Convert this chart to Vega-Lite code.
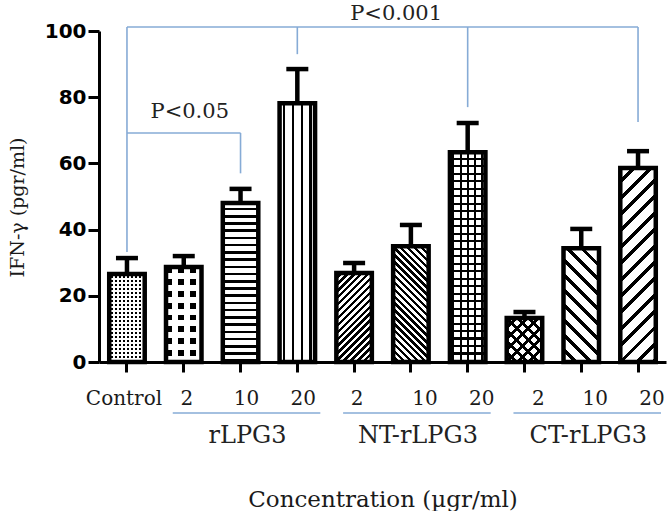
{
"$schema": "https://vega.github.io/schema/vega-lite/v6.json",
"width": 567, "height": 331,
"autosize": "none",
"padding": {"left": 99, "top": 31, "right": 5, "bottom": 149},
"background": "white",
"config": {"view": {"stroke": null}},
"datasets": {
 "bars": [
  {"cat":"Control","mean":26.6,"upper":31.4},
  {"cat":"r2","mean":28.7,"upper":32.0},
  {"cat":"r10","mean":48.0,"upper":52.3},
  {"cat":"r20","mean":78.2,"upper":88.5},
  {"cat":"n2","mean":26.9,"upper":29.9},
  {"cat":"n10","mean":35.0,"upper":41.4},
  {"cat":"n20","mean":63.4,"upper":72.2},
  {"cat":"c2","mean":13.3,"upper":15.1},
  {"cat":"c10","mean":34.4,"upper":40.2},
  {"cat":"c20","mean":58.6,"upper":63.7}
 ],
 "hlines": [{"from":"Control","to":"c20","level":101.2},{"from":"Control","to":"r10","level":69.2}],
 "vlines": [{"at":"Control","lo":33.2,"hi":101.2},{"at":"r20","lo":93,"hi":101.2},{"at":"n20","lo":77,"hi":101.2},{"at":"c20","lo":72.5,"hi":101.2},{"at":"r10","lo":57,"hi":69.2}],
 "glines": [{"from":"r2","to":"r20","level":-15.4},{"from":"n2","to":"n20","level":-15.4},{"from":"c2","to":"c20","level":-15.4}],
 "glabels": [{"name":"rLPG3","mid":"r10","level":-22.4},{"name":"NT-rLPG3","mid":"n10","level":-22.4},{"name":"CT-rLPG3","mid":"c10","level":-22.4}],
 "plabels": [{"text":"P<0.001","at":"n2","level":103.3},{"text":"P<0.05","at":"r2","level":73.7}]
},
"data": {"name": "bars"},
"encoding": {
 "x": {"field":"cat","type":"nominal","sort":null,
  "scale":{"domain":["Control","r2","r10","r20","n2","n10","n20","c2","c10","c20"],"paddingInner":0.375,"paddingOuter":0.18},
  "axis":{"title":"Concentration (µgr/ml)","titleFont":"DejaVu Serif","titleFontSize":23,"titleFontWeight":"normal","titleColor":"#1a1a1a","titleY":144,"titleBaseline":"alphabetic",
   "labelAngle":0,"labelFont":"DejaVu Serif","labelFontSize":20,"labelColor":"#1a1a1a","labelPadding":26,"labelBaseline":"middle","labelOverlap":false,
   "labelExpr":"datum.value == 'Control' ? 'Control' : substring(datum.value, 1)",
   "labelOffset":{"condition":[{"test":"datum.value == 'Control'","value":-3},{"test":"datum.value == 'r2' || datum.value == 'n2'","value":3},{"test":"datum.value == 'r10' || datum.value == 'r20'","value":6}],"value":14},
   "domainColor":"#000","domainWidth":3,"tickColor":"#000","tickWidth":3,"tickSize":10}},
 "y": {"field":"mean","type":"quantitative","scale":{"domain":[0,100],"nice":false},
  "axis":{"title":"IFN-γ (pgr/ml)","values":[0,20,40,60,80,100],"grid":false,
   "labelFont":"DejaVu Sans","labelFontWeight":"bold","labelFontSize":20,"labelColor":"#000","labelPadding":2,
   "tickSize":11,"tickWidth":3,"tickColor":"#000","domainColor":"#000","domainWidth":3,
   "titleFont":"DejaVu Serif","titleFontSize":19,"titleFontWeight":"normal","titleColor":"#1a1a1a","titleX":-82,"titleY":176,"titleAngle":-90,"titleBaseline":"middle","titleAlign":"center"}}
},
"layer": [
 {"transform":[{"filter":"datum.cat == 'Control'"}],
  "mark":{"type":"bar","fill":{"gradient":"linear","x1":0,"y1":0,"x2":0,"y2":1,"stops":[
{"offset":0.0227,"color":"#fff"},{"offset":0.0227,"color":"#000"},{"offset":0.0455,"color":"#000"},{"offset":0.0455,"color":"#fff"},
{"offset":0.0682,"color":"#fff"},{"offset":0.0682,"color":"#000"},{"offset":0.0909,"color":"#000"},{"offset":0.0909,"color":"#fff"},
{"offset":0.1136,"color":"#fff"},{"offset":0.1136,"color":"#000"},{"offset":0.1364,"color":"#000"},{"offset":0.1364,"color":"#fff"},
{"offset":0.1591,"color":"#fff"},{"offset":0.1591,"color":"#000"},{"offset":0.1818,"color":"#000"},{"offset":0.1818,"color":"#fff"},
{"offset":0.2045,"color":"#fff"},{"offset":0.2045,"color":"#000"},{"offset":0.2273,"color":"#000"},{"offset":0.2273,"color":"#fff"},
{"offset":0.25,"color":"#fff"},{"offset":0.25,"color":"#000"},{"offset":0.2727,"color":"#000"},{"offset":0.2727,"color":"#fff"},
{"offset":0.2955,"color":"#fff"},{"offset":0.2955,"color":"#000"},{"offset":0.3182,"color":"#000"},{"offset":0.3182,"color":"#fff"},
{"offset":0.3409,"color":"#fff"},{"offset":0.3409,"color":"#000"},{"offset":0.3636,"color":"#000"},{"offset":0.3636,"color":"#fff"},
{"offset":0.3864,"color":"#fff"},{"offset":0.3864,"color":"#000"},{"offset":0.4091,"color":"#000"},{"offset":0.4091,"color":"#fff"},
{"offset":0.4318,"color":"#fff"},{"offset":0.4318,"color":"#000"},{"offset":0.4545,"color":"#000"},{"offset":0.4545,"color":"#fff"},
{"offset":0.4773,"color":"#fff"},{"offset":0.4773,"color":"#000"},{"offset":0.5,"color":"#000"},{"offset":0.5,"color":"#fff"},
{"offset":0.5227,"color":"#fff"},{"offset":0.5227,"color":"#000"},{"offset":0.5455,"color":"#000"},{"offset":0.5455,"color":"#fff"},
{"offset":0.5682,"color":"#fff"},{"offset":0.5682,"color":"#000"},{"offset":0.5909,"color":"#000"},{"offset":0.5909,"color":"#fff"},
{"offset":0.6136,"color":"#fff"},{"offset":0.6136,"color":"#000"},{"offset":0.6364,"color":"#000"},{"offset":0.6364,"color":"#fff"},
{"offset":0.6591,"color":"#fff"},{"offset":0.6591,"color":"#000"},{"offset":0.6818,"color":"#000"},{"offset":0.6818,"color":"#fff"},
{"offset":0.7045,"color":"#fff"},{"offset":0.7045,"color":"#000"},{"offset":0.7273,"color":"#000"},{"offset":0.7273,"color":"#fff"},
{"offset":0.75,"color":"#fff"},{"offset":0.75,"color":"#000"},{"offset":0.7727,"color":"#000"},{"offset":0.7727,"color":"#fff"},
{"offset":0.7955,"color":"#fff"},{"offset":0.7955,"color":"#000"},{"offset":0.8182,"color":"#000"},{"offset":0.8182,"color":"#fff"},
{"offset":0.8409,"color":"#fff"},{"offset":0.8409,"color":"#000"},{"offset":0.8636,"color":"#000"},{"offset":0.8636,"color":"#fff"},
{"offset":0.8864,"color":"#fff"},{"offset":0.8864,"color":"#000"},{"offset":0.9091,"color":"#000"},{"offset":0.9091,"color":"#fff"},
{"offset":0.9318,"color":"#fff"},{"offset":0.9318,"color":"#000"},{"offset":0.9545,"color":"#000"},{"offset":0.9545,"color":"#fff"},
{"offset":0.9773,"color":"#fff"},{"offset":0.9773,"color":"#000"}]}}},
 {"transform":[{"filter":"datum.cat == 'Control'"}],
  "mark":{"type":"bar","fill":{"gradient":"linear","x1":0,"y1":0,"x2":1,"y2":0,"stops":[
{"offset":0.0556,"color":"#fff"},{"offset":0.0556,"color":"transparent"},{"offset":0.1111,"color":"transparent"},{"offset":0.1111,"color":"#fff"},
{"offset":0.1667,"color":"#fff"},{"offset":0.1667,"color":"transparent"},{"offset":0.2222,"color":"transparent"},{"offset":0.2222,"color":"#fff"},
{"offset":0.2778,"color":"#fff"},{"offset":0.2778,"color":"transparent"},{"offset":0.3333,"color":"transparent"},{"offset":0.3333,"color":"#fff"},
{"offset":0.3889,"color":"#fff"},{"offset":0.3889,"color":"transparent"},{"offset":0.4444,"color":"transparent"},{"offset":0.4444,"color":"#fff"},
{"offset":0.5,"color":"#fff"},{"offset":0.5,"color":"transparent"},{"offset":0.5556,"color":"transparent"},{"offset":0.5556,"color":"#fff"},
{"offset":0.6111,"color":"#fff"},{"offset":0.6111,"color":"transparent"},{"offset":0.6667,"color":"transparent"},{"offset":0.6667,"color":"#fff"},
{"offset":0.7222,"color":"#fff"},{"offset":0.7222,"color":"transparent"},{"offset":0.7778,"color":"transparent"},{"offset":0.7778,"color":"#fff"},
{"offset":0.8333,"color":"#fff"},{"offset":0.8333,"color":"transparent"},{"offset":0.8889,"color":"transparent"},{"offset":0.8889,"color":"#fff"},
{"offset":0.9444,"color":"#fff"},{"offset":0.9444,"color":"transparent"}]}}},
 {"transform":[{"filter":"datum.cat == 'r2'"}],
  "mark":{"type":"bar","fill":{"gradient":"linear","x1":0,"y1":0,"x2":0,"y2":1,"stops":[
{"offset":0.0625,"color":"#000"},{"offset":0.0625,"color":"#fff"},{"offset":0.125,"color":"#fff"},{"offset":0.125,"color":"#000"},
{"offset":0.1875,"color":"#000"},{"offset":0.1875,"color":"#fff"},{"offset":0.25,"color":"#fff"},{"offset":0.25,"color":"#000"},
{"offset":0.3125,"color":"#000"},{"offset":0.3125,"color":"#fff"},{"offset":0.375,"color":"#fff"},{"offset":0.375,"color":"#000"},
{"offset":0.4375,"color":"#000"},{"offset":0.4375,"color":"#fff"},{"offset":0.5,"color":"#fff"},{"offset":0.5,"color":"#000"},
{"offset":0.5625,"color":"#000"},{"offset":0.5625,"color":"#fff"},{"offset":0.625,"color":"#fff"},{"offset":0.625,"color":"#000"},
{"offset":0.6875,"color":"#000"},{"offset":0.6875,"color":"#fff"},{"offset":0.75,"color":"#fff"},{"offset":0.75,"color":"#000"},
{"offset":0.8125,"color":"#000"},{"offset":0.8125,"color":"#fff"},{"offset":0.875,"color":"#fff"},{"offset":0.875,"color":"#000"},
{"offset":0.9375,"color":"#000"},{"offset":0.9375,"color":"#fff"}]}}},
 {"transform":[{"filter":"datum.cat == 'r2'"}],
  "mark":{"type":"bar","fill":{"gradient":"linear","x1":0,"y1":0,"x2":1,"y2":0,"stops":[
{"offset":0.1667,"color":"transparent"},{"offset":0.1667,"color":"#fff"},{"offset":0.3333,"color":"#fff"},{"offset":0.3333,"color":"transparent"},
{"offset":0.5,"color":"transparent"},{"offset":0.5,"color":"#fff"},{"offset":0.6667,"color":"#fff"},{"offset":0.6667,"color":"transparent"},
{"offset":0.8333,"color":"transparent"},{"offset":0.8333,"color":"#fff"}]}}},
 {"transform":[{"filter":"datum.cat == 'r10'"}],
  "mark":{"type":"bar","fill":{"gradient":"linear","x1":0,"y1":0,"x2":0,"y2":1,"stops":[
{"offset":0.0295,"color":"#fff"},{"offset":0.0295,"color":"#000"},{"offset":0.0455,"color":"#000"},{"offset":0.0455,"color":"#fff"},
{"offset":0.075,"color":"#fff"},{"offset":0.075,"color":"#000"},{"offset":0.0909,"color":"#000"},{"offset":0.0909,"color":"#fff"},
{"offset":0.1205,"color":"#fff"},{"offset":0.1205,"color":"#000"},{"offset":0.1364,"color":"#000"},{"offset":0.1364,"color":"#fff"},
{"offset":0.1659,"color":"#fff"},{"offset":0.1659,"color":"#000"},{"offset":0.1818,"color":"#000"},{"offset":0.1818,"color":"#fff"},
{"offset":0.2114,"color":"#fff"},{"offset":0.2114,"color":"#000"},{"offset":0.2273,"color":"#000"},{"offset":0.2273,"color":"#fff"},
{"offset":0.2568,"color":"#fff"},{"offset":0.2568,"color":"#000"},{"offset":0.2727,"color":"#000"},{"offset":0.2727,"color":"#fff"},
{"offset":0.3023,"color":"#fff"},{"offset":0.3023,"color":"#000"},{"offset":0.3182,"color":"#000"},{"offset":0.3182,"color":"#fff"},
{"offset":0.3477,"color":"#fff"},{"offset":0.3477,"color":"#000"},{"offset":0.3636,"color":"#000"},{"offset":0.3636,"color":"#fff"},
{"offset":0.3932,"color":"#fff"},{"offset":0.3932,"color":"#000"},{"offset":0.4091,"color":"#000"},{"offset":0.4091,"color":"#fff"},
{"offset":0.4386,"color":"#fff"},{"offset":0.4386,"color":"#000"},{"offset":0.4545,"color":"#000"},{"offset":0.4545,"color":"#fff"},
{"offset":0.4841,"color":"#fff"},{"offset":0.4841,"color":"#000"},{"offset":0.5,"color":"#000"},{"offset":0.5,"color":"#fff"},
{"offset":0.5295,"color":"#fff"},{"offset":0.5295,"color":"#000"},{"offset":0.5455,"color":"#000"},{"offset":0.5455,"color":"#fff"},
{"offset":0.575,"color":"#fff"},{"offset":0.575,"color":"#000"},{"offset":0.5909,"color":"#000"},{"offset":0.5909,"color":"#fff"},
{"offset":0.6205,"color":"#fff"},{"offset":0.6205,"color":"#000"},{"offset":0.6364,"color":"#000"},{"offset":0.6364,"color":"#fff"},
{"offset":0.6659,"color":"#fff"},{"offset":0.6659,"color":"#000"},{"offset":0.6818,"color":"#000"},{"offset":0.6818,"color":"#fff"},
{"offset":0.7114,"color":"#fff"},{"offset":0.7114,"color":"#000"},{"offset":0.7273,"color":"#000"},{"offset":0.7273,"color":"#fff"},
{"offset":0.7568,"color":"#fff"},{"offset":0.7568,"color":"#000"},{"offset":0.7727,"color":"#000"},{"offset":0.7727,"color":"#fff"},
{"offset":0.8023,"color":"#fff"},{"offset":0.8023,"color":"#000"},{"offset":0.8182,"color":"#000"},{"offset":0.8182,"color":"#fff"},
{"offset":0.8477,"color":"#fff"},{"offset":0.8477,"color":"#000"},{"offset":0.8636,"color":"#000"},{"offset":0.8636,"color":"#fff"},
{"offset":0.8932,"color":"#fff"},{"offset":0.8932,"color":"#000"},{"offset":0.9091,"color":"#000"},{"offset":0.9091,"color":"#fff"},
{"offset":0.9386,"color":"#fff"},{"offset":0.9386,"color":"#000"},{"offset":0.9545,"color":"#000"},{"offset":0.9545,"color":"#fff"},
{"offset":0.9841,"color":"#fff"},{"offset":0.9841,"color":"#000"}]}}},
 {"transform":[{"filter":"datum.cat == 'r20'"}],
  "mark":{"type":"bar","fill":{"gradient":"linear","x1":0,"y1":0,"x2":1,"y2":0,"stops":[
{"offset":0.09,"color":"#fff"},{"offset":0.09,"color":"#000"},{"offset":0.16,"color":"#000"},{"offset":0.16,"color":"#fff"},
{"offset":0.34,"color":"#fff"},{"offset":0.34,"color":"#000"},{"offset":0.41,"color":"#000"},{"offset":0.41,"color":"#fff"},
{"offset":0.59,"color":"#fff"},{"offset":0.59,"color":"#000"},{"offset":0.66,"color":"#000"},{"offset":0.66,"color":"#fff"},
{"offset":0.84,"color":"#fff"},{"offset":0.84,"color":"#000"},{"offset":0.91,"color":"#000"},{"offset":0.91,"color":"#fff"}]}}},
 {"transform":[{"filter":"datum.cat == 'n2'"}],
  "mark":{"type":"bar","fill":{"gradient":"linear","x1":0,"y1":0,"x2":0.481,"y2":1.2068,"stops":[
{"offset":0.0278,"color":"#fff"},{"offset":0.0278,"color":"#000"},{"offset":0.0556,"color":"#000"},{"offset":0.0556,"color":"#fff"},
{"offset":0.0833,"color":"#fff"},{"offset":0.0833,"color":"#000"},{"offset":0.1111,"color":"#000"},{"offset":0.1111,"color":"#fff"},
{"offset":0.1389,"color":"#fff"},{"offset":0.1389,"color":"#000"},{"offset":0.1667,"color":"#000"},{"offset":0.1667,"color":"#fff"},
{"offset":0.1944,"color":"#fff"},{"offset":0.1944,"color":"#000"},{"offset":0.2222,"color":"#000"},{"offset":0.2222,"color":"#fff"},
{"offset":0.25,"color":"#fff"},{"offset":0.25,"color":"#000"},{"offset":0.2778,"color":"#000"},{"offset":0.2778,"color":"#fff"},
{"offset":0.3056,"color":"#fff"},{"offset":0.3056,"color":"#000"},{"offset":0.3333,"color":"#000"},{"offset":0.3333,"color":"#fff"},
{"offset":0.3611,"color":"#fff"},{"offset":0.3611,"color":"#000"},{"offset":0.3889,"color":"#000"},{"offset":0.3889,"color":"#fff"},
{"offset":0.4167,"color":"#fff"},{"offset":0.4167,"color":"#000"},{"offset":0.4444,"color":"#000"},{"offset":0.4444,"color":"#fff"},
{"offset":0.4722,"color":"#fff"},{"offset":0.4722,"color":"#000"},{"offset":0.5,"color":"#000"},{"offset":0.5,"color":"#fff"},
{"offset":0.5278,"color":"#fff"},{"offset":0.5278,"color":"#000"},{"offset":0.5556,"color":"#000"},{"offset":0.5556,"color":"#fff"},
{"offset":0.5833,"color":"#fff"},{"offset":0.5833,"color":"#000"},{"offset":0.6111,"color":"#000"},{"offset":0.6111,"color":"#fff"},
{"offset":0.6389,"color":"#fff"},{"offset":0.6389,"color":"#000"},{"offset":0.6667,"color":"#000"},{"offset":0.6667,"color":"#fff"},
{"offset":0.6944,"color":"#fff"},{"offset":0.6944,"color":"#000"},{"offset":0.7222,"color":"#000"},{"offset":0.7222,"color":"#fff"},
{"offset":0.75,"color":"#fff"},{"offset":0.75,"color":"#000"},{"offset":0.7778,"color":"#000"},{"offset":0.7778,"color":"#fff"},
{"offset":0.8056,"color":"#fff"},{"offset":0.8056,"color":"#000"},{"offset":0.8333,"color":"#000"},{"offset":0.8333,"color":"#fff"},
{"offset":0.8611,"color":"#fff"},{"offset":0.8611,"color":"#000"},{"offset":0.8889,"color":"#000"},{"offset":0.8889,"color":"#fff"},
{"offset":0.9167,"color":"#fff"},{"offset":0.9167,"color":"#000"},{"offset":0.9444,"color":"#000"},{"offset":0.9444,"color":"#fff"},
{"offset":0.9722,"color":"#fff"},{"offset":0.9722,"color":"#000"}]}}},
 {"transform":[{"filter":"datum.cat == 'n10'"}],
  "mark":{"type":"bar","fill":{"gradient":"linear","x1":0,"y1":1,"x2":0.3659,"y2":-0.1944,"stops":[
{"offset":0.0227,"color":"#fff"},{"offset":0.0227,"color":"#000"},{"offset":0.0455,"color":"#000"},{"offset":0.0455,"color":"#fff"},
{"offset":0.0682,"color":"#fff"},{"offset":0.0682,"color":"#000"},{"offset":0.0909,"color":"#000"},{"offset":0.0909,"color":"#fff"},
{"offset":0.1136,"color":"#fff"},{"offset":0.1136,"color":"#000"},{"offset":0.1364,"color":"#000"},{"offset":0.1364,"color":"#fff"},
{"offset":0.1591,"color":"#fff"},{"offset":0.1591,"color":"#000"},{"offset":0.1818,"color":"#000"},{"offset":0.1818,"color":"#fff"},
{"offset":0.2045,"color":"#fff"},{"offset":0.2045,"color":"#000"},{"offset":0.2273,"color":"#000"},{"offset":0.2273,"color":"#fff"},
{"offset":0.25,"color":"#fff"},{"offset":0.25,"color":"#000"},{"offset":0.2727,"color":"#000"},{"offset":0.2727,"color":"#fff"},
{"offset":0.2955,"color":"#fff"},{"offset":0.2955,"color":"#000"},{"offset":0.3182,"color":"#000"},{"offset":0.3182,"color":"#fff"},
{"offset":0.3409,"color":"#fff"},{"offset":0.3409,"color":"#000"},{"offset":0.3636,"color":"#000"},{"offset":0.3636,"color":"#fff"},
{"offset":0.3864,"color":"#fff"},{"offset":0.3864,"color":"#000"},{"offset":0.4091,"color":"#000"},{"offset":0.4091,"color":"#fff"},
{"offset":0.4318,"color":"#fff"},{"offset":0.4318,"color":"#000"},{"offset":0.4545,"color":"#000"},{"offset":0.4545,"color":"#fff"},
{"offset":0.4773,"color":"#fff"},{"offset":0.4773,"color":"#000"},{"offset":0.5,"color":"#000"},{"offset":0.5,"color":"#fff"},
{"offset":0.5227,"color":"#fff"},{"offset":0.5227,"color":"#000"},{"offset":0.5455,"color":"#000"},{"offset":0.5455,"color":"#fff"},
{"offset":0.5682,"color":"#fff"},{"offset":0.5682,"color":"#000"},{"offset":0.5909,"color":"#000"},{"offset":0.5909,"color":"#fff"},
{"offset":0.6136,"color":"#fff"},{"offset":0.6136,"color":"#000"},{"offset":0.6364,"color":"#000"},{"offset":0.6364,"color":"#fff"},
{"offset":0.6591,"color":"#fff"},{"offset":0.6591,"color":"#000"},{"offset":0.6818,"color":"#000"},{"offset":0.6818,"color":"#fff"},
{"offset":0.7045,"color":"#fff"},{"offset":0.7045,"color":"#000"},{"offset":0.7273,"color":"#000"},{"offset":0.7273,"color":"#fff"},
{"offset":0.75,"color":"#fff"},{"offset":0.75,"color":"#000"},{"offset":0.7727,"color":"#000"},{"offset":0.7727,"color":"#fff"},
{"offset":0.7955,"color":"#fff"},{"offset":0.7955,"color":"#000"},{"offset":0.8182,"color":"#000"},{"offset":0.8182,"color":"#fff"},
{"offset":0.8409,"color":"#fff"},{"offset":0.8409,"color":"#000"},{"offset":0.8636,"color":"#000"},{"offset":0.8636,"color":"#fff"},
{"offset":0.8864,"color":"#fff"},{"offset":0.8864,"color":"#000"},{"offset":0.9091,"color":"#000"},{"offset":0.9091,"color":"#fff"},
{"offset":0.9318,"color":"#fff"},{"offset":0.9318,"color":"#000"},{"offset":0.9545,"color":"#000"},{"offset":0.9545,"color":"#fff"},
{"offset":0.9773,"color":"#fff"},{"offset":0.9773,"color":"#000"}]}}},
 {"transform":[{"filter":"datum.cat == 'n20'"}],
  "mark":{"type":"bar","fill":{"gradient":"linear","x1":0,"y1":0,"x2":1,"y2":0,"stops":[
{"offset":0.072,"color":"#fff"},{"offset":0.072,"color":"#000"},{"offset":0.128,"color":"#000"},{"offset":0.128,"color":"#fff"},
{"offset":0.272,"color":"#fff"},{"offset":0.272,"color":"#000"},{"offset":0.328,"color":"#000"},{"offset":0.328,"color":"#fff"},
{"offset":0.472,"color":"#fff"},{"offset":0.472,"color":"#000"},{"offset":0.528,"color":"#000"},{"offset":0.528,"color":"#fff"},
{"offset":0.672,"color":"#fff"},{"offset":0.672,"color":"#000"},{"offset":0.728,"color":"#000"},{"offset":0.728,"color":"#fff"},
{"offset":0.872,"color":"#fff"},{"offset":0.872,"color":"#000"},{"offset":0.928,"color":"#000"},{"offset":0.928,"color":"#fff"}]}}},
 {"transform":[{"filter":"datum.cat == 'n20'"}],
  "mark":{"type":"bar","fill":{"gradient":"linear","x1":0,"y1":0,"x2":0,"y2":1,"stops":[
{"offset":0.0261,"color":"transparent"},{"offset":0.0261,"color":"#000"},{"offset":0.0357,"color":"#000"},{"offset":0.0357,"color":"transparent"},
{"offset":0.0618,"color":"transparent"},{"offset":0.0618,"color":"#000"},{"offset":0.0714,"color":"#000"},{"offset":0.0714,"color":"transparent"},
{"offset":0.0975,"color":"transparent"},{"offset":0.0975,"color":"#000"},{"offset":0.1071,"color":"#000"},{"offset":0.1071,"color":"transparent"},
{"offset":0.1332,"color":"transparent"},{"offset":0.1332,"color":"#000"},{"offset":0.1429,"color":"#000"},{"offset":0.1429,"color":"transparent"},
{"offset":0.1689,"color":"transparent"},{"offset":0.1689,"color":"#000"},{"offset":0.1786,"color":"#000"},{"offset":0.1786,"color":"transparent"},
{"offset":0.2046,"color":"transparent"},{"offset":0.2046,"color":"#000"},{"offset":0.2143,"color":"#000"},{"offset":0.2143,"color":"transparent"},
{"offset":0.2404,"color":"transparent"},{"offset":0.2404,"color":"#000"},{"offset":0.25,"color":"#000"},{"offset":0.25,"color":"transparent"},
{"offset":0.2761,"color":"transparent"},{"offset":0.2761,"color":"#000"},{"offset":0.2857,"color":"#000"},{"offset":0.2857,"color":"transparent"},
{"offset":0.3118,"color":"transparent"},{"offset":0.3118,"color":"#000"},{"offset":0.3214,"color":"#000"},{"offset":0.3214,"color":"transparent"},
{"offset":0.3475,"color":"transparent"},{"offset":0.3475,"color":"#000"},{"offset":0.3571,"color":"#000"},{"offset":0.3571,"color":"transparent"},
{"offset":0.3832,"color":"transparent"},{"offset":0.3832,"color":"#000"},{"offset":0.3929,"color":"#000"},{"offset":0.3929,"color":"transparent"},
{"offset":0.4189,"color":"transparent"},{"offset":0.4189,"color":"#000"},{"offset":0.4286,"color":"#000"},{"offset":0.4286,"color":"transparent"},
{"offset":0.4546,"color":"transparent"},{"offset":0.4546,"color":"#000"},{"offset":0.4643,"color":"#000"},{"offset":0.4643,"color":"transparent"},
{"offset":0.4904,"color":"transparent"},{"offset":0.4904,"color":"#000"},{"offset":0.5,"color":"#000"},{"offset":0.5,"color":"transparent"},
{"offset":0.5261,"color":"transparent"},{"offset":0.5261,"color":"#000"},{"offset":0.5357,"color":"#000"},{"offset":0.5357,"color":"transparent"},
{"offset":0.5618,"color":"transparent"},{"offset":0.5618,"color":"#000"},{"offset":0.5714,"color":"#000"},{"offset":0.5714,"color":"transparent"},
{"offset":0.5975,"color":"transparent"},{"offset":0.5975,"color":"#000"},{"offset":0.6071,"color":"#000"},{"offset":0.6071,"color":"transparent"},
{"offset":0.6332,"color":"transparent"},{"offset":0.6332,"color":"#000"},{"offset":0.6429,"color":"#000"},{"offset":0.6429,"color":"transparent"},
{"offset":0.6689,"color":"transparent"},{"offset":0.6689,"color":"#000"},{"offset":0.6786,"color":"#000"},{"offset":0.6786,"color":"transparent"},
{"offset":0.7046,"color":"transparent"},{"offset":0.7046,"color":"#000"},{"offset":0.7143,"color":"#000"},{"offset":0.7143,"color":"transparent"},
{"offset":0.7404,"color":"transparent"},{"offset":0.7404,"color":"#000"},{"offset":0.75,"color":"#000"},{"offset":0.75,"color":"transparent"},
{"offset":0.7761,"color":"transparent"},{"offset":0.7761,"color":"#000"},{"offset":0.7857,"color":"#000"},{"offset":0.7857,"color":"transparent"},
{"offset":0.8118,"color":"transparent"},{"offset":0.8118,"color":"#000"},{"offset":0.8214,"color":"#000"},{"offset":0.8214,"color":"transparent"},
{"offset":0.8475,"color":"transparent"},{"offset":0.8475,"color":"#000"},{"offset":0.8571,"color":"#000"},{"offset":0.8571,"color":"transparent"},
{"offset":0.8832,"color":"transparent"},{"offset":0.8832,"color":"#000"},{"offset":0.8929,"color":"#000"},{"offset":0.8929,"color":"transparent"},
{"offset":0.9189,"color":"transparent"},{"offset":0.9189,"color":"#000"},{"offset":0.9286,"color":"#000"},{"offset":0.9286,"color":"transparent"},
{"offset":0.9546,"color":"transparent"},{"offset":0.9546,"color":"#000"},{"offset":0.9643,"color":"#000"},{"offset":0.9643,"color":"transparent"}]}}},
 {"transform":[{"filter":"datum.cat == 'c2'"}],
  "mark":{"type":"bar","fill":{"gradient":"linear","x1":0,"y1":0,"x2":0.8826,"y2":1.0947,"stops":[
{"offset":0.0929,"color":"#fff"},{"offset":0.0929,"color":"#000"},{"offset":0.1429,"color":"#000"},{"offset":0.1429,"color":"#fff"},
{"offset":0.2357,"color":"#fff"},{"offset":0.2357,"color":"#000"},{"offset":0.2857,"color":"#000"},{"offset":0.2857,"color":"#fff"},
{"offset":0.3786,"color":"#fff"},{"offset":0.3786,"color":"#000"},{"offset":0.4286,"color":"#000"},{"offset":0.4286,"color":"#fff"},
{"offset":0.5214,"color":"#fff"},{"offset":0.5214,"color":"#000"},{"offset":0.5714,"color":"#000"},{"offset":0.5714,"color":"#fff"},
{"offset":0.6643,"color":"#fff"},{"offset":0.6643,"color":"#000"},{"offset":0.7143,"color":"#000"},{"offset":0.7143,"color":"#fff"},
{"offset":0.8071,"color":"#fff"},{"offset":0.8071,"color":"#000"},{"offset":0.8571,"color":"#000"},{"offset":0.8571,"color":"#fff"},
{"offset":0.95,"color":"#fff"},{"offset":0.95,"color":"#000"}]}}},
 {"transform":[{"filter":"datum.cat == 'c2'"}],
  "mark":{"type":"bar","fill":{"gradient":"linear","x1":0,"y1":1,"x2":0.8826,"y2":-0.0947,"stops":[
{"offset":0.0929,"color":"transparent"},{"offset":0.0929,"color":"#000"},{"offset":0.1429,"color":"#000"},{"offset":0.1429,"color":"transparent"},
{"offset":0.2357,"color":"transparent"},{"offset":0.2357,"color":"#000"},{"offset":0.2857,"color":"#000"},{"offset":0.2857,"color":"transparent"},
{"offset":0.3786,"color":"transparent"},{"offset":0.3786,"color":"#000"},{"offset":0.4286,"color":"#000"},{"offset":0.4286,"color":"transparent"},
{"offset":0.5214,"color":"transparent"},{"offset":0.5214,"color":"#000"},{"offset":0.5714,"color":"#000"},{"offset":0.5714,"color":"transparent"},
{"offset":0.6643,"color":"transparent"},{"offset":0.6643,"color":"#000"},{"offset":0.7143,"color":"#000"},{"offset":0.7143,"color":"transparent"},
{"offset":0.8071,"color":"transparent"},{"offset":0.8071,"color":"#000"},{"offset":0.8571,"color":"#000"},{"offset":0.8571,"color":"transparent"},
{"offset":0.95,"color":"transparent"},{"offset":0.95,"color":"#000"}]}}},
 {"transform":[{"filter":"datum.cat == 'c10'"}],
  "mark":{"type":"bar","fill":{"gradient":"linear","x1":0,"y1":1,"x2":0.3727,"y2":-0.1957,"stops":[
{"offset":0.07,"color":"#fff"},{"offset":0.07,"color":"#000"},{"offset":0.1,"color":"#000"},{"offset":0.1,"color":"#fff"},
{"offset":0.17,"color":"#fff"},{"offset":0.17,"color":"#000"},{"offset":0.2,"color":"#000"},{"offset":0.2,"color":"#fff"},
{"offset":0.27,"color":"#fff"},{"offset":0.27,"color":"#000"},{"offset":0.3,"color":"#000"},{"offset":0.3,"color":"#fff"},
{"offset":0.37,"color":"#fff"},{"offset":0.37,"color":"#000"},{"offset":0.4,"color":"#000"},{"offset":0.4,"color":"#fff"},
{"offset":0.47,"color":"#fff"},{"offset":0.47,"color":"#000"},{"offset":0.5,"color":"#000"},{"offset":0.5,"color":"#fff"},
{"offset":0.57,"color":"#fff"},{"offset":0.57,"color":"#000"},{"offset":0.6,"color":"#000"},{"offset":0.6,"color":"#fff"},
{"offset":0.67,"color":"#fff"},{"offset":0.67,"color":"#000"},{"offset":0.7,"color":"#000"},{"offset":0.7,"color":"#fff"},
{"offset":0.77,"color":"#fff"},{"offset":0.77,"color":"#000"},{"offset":0.8,"color":"#000"},{"offset":0.8,"color":"#fff"},
{"offset":0.87,"color":"#fff"},{"offset":0.87,"color":"#000"},{"offset":0.9,"color":"#000"},{"offset":0.9,"color":"#fff"},
{"offset":0.97,"color":"#fff"},{"offset":0.97,"color":"#000"}]}}},
 {"transform":[{"filter":"datum.cat == 'c20'"}],
  "mark":{"type":"bar","fill":{"gradient":"linear","x1":0,"y1":0,"x2":0.2094,"y2":1.1446,"stops":[
{"offset":0.05,"color":"#fff"},{"offset":0.05,"color":"#000"},{"offset":0.0714,"color":"#000"},{"offset":0.0714,"color":"#fff"},
{"offset":0.1214,"color":"#fff"},{"offset":0.1214,"color":"#000"},{"offset":0.1429,"color":"#000"},{"offset":0.1429,"color":"#fff"},
{"offset":0.1929,"color":"#fff"},{"offset":0.1929,"color":"#000"},{"offset":0.2143,"color":"#000"},{"offset":0.2143,"color":"#fff"},
{"offset":0.2643,"color":"#fff"},{"offset":0.2643,"color":"#000"},{"offset":0.2857,"color":"#000"},{"offset":0.2857,"color":"#fff"},
{"offset":0.3357,"color":"#fff"},{"offset":0.3357,"color":"#000"},{"offset":0.3571,"color":"#000"},{"offset":0.3571,"color":"#fff"},
{"offset":0.4071,"color":"#fff"},{"offset":0.4071,"color":"#000"},{"offset":0.4286,"color":"#000"},{"offset":0.4286,"color":"#fff"},
{"offset":0.4786,"color":"#fff"},{"offset":0.4786,"color":"#000"},{"offset":0.5,"color":"#000"},{"offset":0.5,"color":"#fff"},
{"offset":0.55,"color":"#fff"},{"offset":0.55,"color":"#000"},{"offset":0.5714,"color":"#000"},{"offset":0.5714,"color":"#fff"},
{"offset":0.6214,"color":"#fff"},{"offset":0.6214,"color":"#000"},{"offset":0.6429,"color":"#000"},{"offset":0.6429,"color":"#fff"},
{"offset":0.6929,"color":"#fff"},{"offset":0.6929,"color":"#000"},{"offset":0.7143,"color":"#000"},{"offset":0.7143,"color":"#fff"},
{"offset":0.7643,"color":"#fff"},{"offset":0.7643,"color":"#000"},{"offset":0.7857,"color":"#000"},{"offset":0.7857,"color":"#fff"},
{"offset":0.8357,"color":"#fff"},{"offset":0.8357,"color":"#000"},{"offset":0.8571,"color":"#000"},{"offset":0.8571,"color":"#fff"},
{"offset":0.9071,"color":"#fff"},{"offset":0.9071,"color":"#000"},{"offset":0.9286,"color":"#000"},{"offset":0.9286,"color":"#fff"},
{"offset":0.9786,"color":"#fff"},{"offset":0.9786,"color":"#000"}]}}},
 {"mark":{"type":"bar","fill":"#fff","fillOpacity":0,"stroke":"#000","strokeWidth":4.5}},
 {"mark":{"type":"rule","color":"#000","strokeWidth":4.5},
  "encoding":{"y":{"field":"mean","type":"quantitative"},"y2":{"field":"upper"}}},
 {"mark":{"type":"tick","color":"#000","size":22,"thickness":4.5,"opacity":1},
  "encoding":{"y":{"field":"upper","type":"quantitative"}}},
 {"data":{"name":"hlines"},
  "mark":{"type":"rule","color":"#86abd6","strokeWidth":1.6},
  "encoding":{"x":{"field":"from","type":"nominal"},"x2":{"field":"to"},"y":{"field":"level","type":"quantitative"}}},
 {"data":{"name":"vlines"},
  "mark":{"type":"rule","color":"#86abd6","strokeWidth":1.6},
  "encoding":{"x":{"field":"at","type":"nominal"},"y":{"field":"lo","type":"quantitative"},"y2":{"field":"hi"}}},
 {"data":{"name":"plabels"},"transform":[{"filter":"datum.text == 'P<0.001'"}],
  "mark":{"type":"text","font":"DejaVu Serif","fontSize":21,"color":"#222","baseline":"alphabetic","align":"center","dx":42},
  "encoding":{"x":{"field":"at","type":"nominal"},"y":{"field":"level","type":"quantitative"},"text":{"field":"text"}}},
 {"data":{"name":"plabels"},"transform":[{"filter":"datum.text == 'P<0.05'"}],
  "mark":{"type":"text","font":"DejaVu Serif","fontSize":21,"color":"#222","baseline":"alphabetic","align":"center","dx":6},
  "encoding":{"x":{"field":"at","type":"nominal"},"y":{"field":"level","type":"quantitative"},"text":{"field":"text"}}},
 {"data":{"name":"glines"},
  "mark":{"type":"rule","color":"#86abd6","strokeWidth":1.6,"xOffset":-11,"x2Offset":23},
  "encoding":{"x":{"field":"from","type":"nominal"},"x2":{"field":"to"},"y":{"field":"level","type":"quantitative"}}},
 {"data":{"name":"glabels"},
  "mark":{"type":"text","font":"DejaVu Serif","fontSize":24,"color":"#222","baseline":"middle","align":"center","dx":7},
  "encoding":{"x":{"field":"mid","type":"nominal"},"y":{"field":"level","type":"quantitative"},"text":{"field":"name"}}}
]
}
